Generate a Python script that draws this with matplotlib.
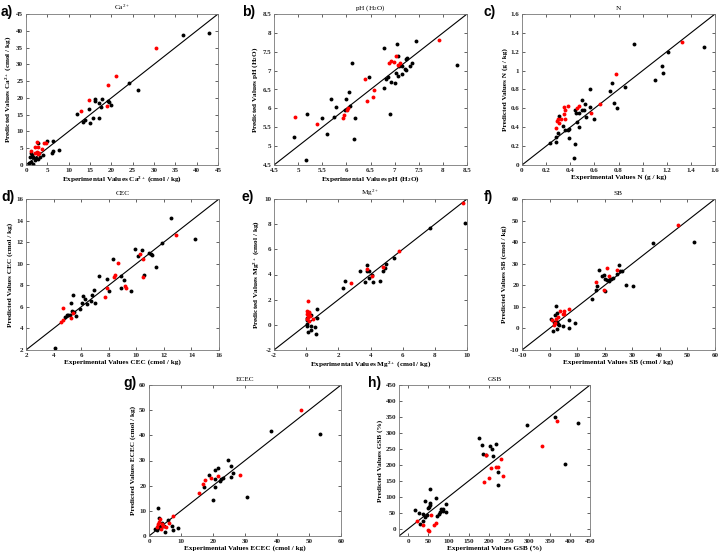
import matplotlib
matplotlib.use('Agg')
import matplotlib.pyplot as plt
import matplotlib.ticker as mticker
import numpy as np

plt.rcParams['font.family'] = ['Liberation Serif', 'DejaVu Serif']
plt.rcParams['mathtext.default'] = 'regular'

# ---- a) Ca2+
ca_x_k = [36.7, 42.9, 26.3, 24.1, 12.0, 14.8, 16.2, 16.2, 17.8, 17.0, 19.3, 19.4, 20.0, 17.6, 13.3, 13.8,
          15.8, 17.1, 15.1, 4.9, 6.4, 2.7, 7.7, 6.2, 6.4, 4.1, 0.9, 1.3, 1.7, 2.3, 2.7, 1.2, 1.6, 2.0, 0.8, 1.2, 3.3]
ca_y_k = [38.6, 39.3, 22.3, 24.3, 15.3, 16.8, 19.8, 19.0, 19.6, 18.6, 19.1, 18.7, 18.0, 17.3, 12.8, 13.5,
          14.1, 14.1, 12.6, 7.2, 7.3, 6.7, 4.6, 3.7, 4.2, 3.1, 2.4, 3.1, 2.4, 2.2, 1.8, 1.0, 0.4, 1.4, 0.6, 3.6, 2.4]
ca_x_r = [30.4, 21.1, 19.2, 14.8, 12.9, 19.1, 2.5, 4.3, 2.0, 2.7, 3.8, 1.2, 2.5, 3.0, 2.7, 2.0, 4.8]
ca_y_r = [34.8, 26.4, 23.9, 19.3, 16.1, 17.5, 7.0, 6.6, 5.4, 5.4, 4.8, 4.1, 4.0, 3.7, 3.4, 3.6, 6.6]

# ---- b) pH
ph_x_k = [4.92, 5.16, 5.18, 5.50, 5.59, 5.68, 5.75, 5.79, 5.98, 6.00, 6.05, 6.08, 6.12, 6.18, 6.16, 6.47,
          6.77, 6.78, 6.82, 6.86, 6.91, 6.92, 7.00, 7.02, 7.05, 7.07, 7.08, 7.10, 7.15, 7.15, 7.21, 7.23,
          7.25, 7.24, 7.32, 7.37, 7.45, 8.29]
ph_y_k = [5.23, 4.64, 5.85, 5.74, 5.33, 6.26, 5.78, 6.04, 5.96, 6.25, 6.44, 6.07, 7.19, 5.74, 5.20, 6.84,
          7.61, 6.55, 6.79, 6.84, 5.86, 6.71, 6.66, 6.94, 7.71, 7.38, 6.87, 7.11, 6.92, 7.11, 7.03, 7.32,
          7.34, 7.02, 7.11, 7.19, 7.79, 7.15]
ph_x_r = [4.94, 5.40, 5.93, 5.95, 6.01, 6.03, 6.38, 6.43, 6.55, 6.58, 6.89, 6.92, 6.99, 7.03, 7.06, 7.12, 7.93]
ph_y_r = [5.77, 5.58, 5.75, 5.83, 5.97, 6.00, 6.77, 6.20, 6.29, 6.48, 7.21, 7.25, 7.24, 7.38, 7.16, 7.21, 7.81]

# ---- c) N
n_x_k = [0.23, 0.28, 0.28, 0.30, 0.31, 0.34, 0.36, 0.38, 0.39, 0.39, 0.43, 0.44, 0.44, 0.45, 0.46, 0.47,
         0.47, 0.50, 0.50, 0.51, 0.52, 0.53, 0.56, 0.56, 0.60, 0.73, 0.75, 0.76, 0.79, 0.85, 0.93, 1.10,
         1.16, 1.17, 1.21, 1.51]
n_y_k = [0.23, 0.30, 0.24, 0.34, 0.52, 0.41, 0.37, 0.37, 0.29, 0.38, 0.07, 0.22, 0.58, 0.55, 0.46, 0.55,
         0.40, 0.69, 0.58, 0.58, 0.65, 0.51, 0.80, 0.61, 0.49, 0.78, 0.87, 0.66, 0.60, 0.83, 1.28, 0.90,
         1.05, 0.97, 1.20, 1.25]
n_x_r = [0.28, 0.29, 0.30, 0.32, 0.31, 0.35, 0.36, 0.35, 0.36, 0.38, 0.46, 0.47, 0.57, 0.65, 0.78, 1.33]
n_y_r = [0.39, 0.47, 0.49, 0.49, 0.44, 0.61, 0.58, 0.54, 0.49, 0.62, 0.60, 0.62, 0.55, 0.65, 0.96, 1.30]

# ---- d) CEC
cec_x_k = [4.13, 4.83, 4.95, 5.07, 5.20, 5.29, 5.37, 5.44, 5.51, 5.63, 5.92, 6.07, 6.16, 6.26, 6.46, 6.70,
           6.79, 6.94, 7.04, 7.28, 7.86, 8.05, 8.30, 8.88, 8.88, 9.12, 9.60, 9.89, 10.09, 10.43, 10.58,
           10.91, 11.05, 11.15, 11.44, 11.88, 12.51, 14.25]
cec_y_k = [2.15, 5.06, 5.28, 5.28, 5.25, 6.33, 5.65, 7.14, 5.50, 5.16, 5.78, 6.33, 7.05, 6.74, 6.30, 6.58,
           7.10, 7.54, 6.39, 8.84, 8.60, 7.45, 10.45, 7.79, 8.84, 8.47, 7.48, 11.32, 10.73, 11.26, 8.94,
           10.95, 10.90, 10.79, 9.65, 11.88, 14.20, 12.31]
cec_x_r = [4.57, 4.71, 4.71, 5.24, 5.39, 7.74, 7.86, 8.39, 8.49, 8.68, 9.17, 9.22, 10.28, 10.47, 10.52, 12.85]
cec_y_r = [4.60, 5.90, 4.82, 5.00, 5.40, 6.95, 7.79, 8.78, 8.93, 10.08, 7.91, 7.73, 10.89, 10.45, 8.81, 12.62]

# ---- e) Mg2+
mg_x_k = [0.03, 0.03, 0.07, 0.03, 0.12, 0.32, 0.32, 0.57, 0.63, 0.70, 0.70, 0.28, 2.32, 2.40, 3.35, 3.68,
          3.79, 3.79, 3.89, 3.93, 4.10, 4.18, 4.56, 4.76, 4.93, 4.97, 5.47, 7.67, 9.90]
mg_y_k = [0.36, 0.10, -0.09, 0.55, -0.57, -0.12, -0.41, -0.20, -0.70, 1.24, 0.52, 0.79, 2.93, 3.52, 4.31,
          3.38, 4.79, 4.26, 3.70, 4.31, 3.97, 3.44, 3.46, 4.26, 4.53, 4.84, 5.35, 7.71, 8.13]
mg_x_r = [0.12, 0.07, 0.16, 0.03, 0.20, 0.24, 0.10, 0.07, 0.16, 0.45, 2.81, 3.81, 4.10, 4.76, 5.76, 9.78]
mg_y_r = [1.87, 1.08, 1.02, 0.89, 0.97, 0.71, 0.63, 0.44, 0.28, 0.44, 3.30, 4.47, 3.89, 4.63, 5.90, 9.70]

# ---- f) SB
sb_x_k = [0.4, 1.1, 1.6, 2.1, 2.3, 2.8, 2.8, 3.0, 2.8, 3.3, 4.7, 6.9, 7.1, 9.1, 15.3, 17.0, 17.3, 18.0,
          19.0, 19.7, 20.2, 20.9, 21.4, 21.8, 22.3, 23.0, 20.0, 24.5, 25.0, 25.5, 26.2, 27.9, 30.3, 37.5, 52.5]
sb_y_k = [4.6, -1.0, 3.0, 6.3, 10.6, 7.2, 2.9, 2.2, -0.4, 1.8, 1.0, 3.8, 0.4, 2.7, 13.8, 17.6, 19.9, 27.2,
          24.2, 25.0, 23.1, 22.4, 22.0, 22.7, 22.8, 23.4, 17.2, 25.4, 29.3, 26.5, 26.7, 20.3, 19.6, 39.7, 40.0]
sb_x_r = [0.9, 1.6, 2.1, 2.5, 3.0, 3.8, 4.7, 5.4, 5.4, 7.1, 16.8, 19.9, 20.9, 21.6, 24.3, 46.7]
sb_y_r = [3.8, 1.8, 2.7, 4.5, 5.2, 8.0, 6.7, 8.3, 6.9, 9.2, 21.3, 17.6, 27.8, 24.1, 27.2, 48.0]

# ---- g) ECEC
ecec_x_k = [1.9, 2.5, 2.7, 2.9, 3.1, 3.3, 3.6, 3.8, 4.0, 4.6, 5.0, 5.9, 7.3, 7.5, 9.2, 17.3, 18.6, 20.1,
            20.5, 20.5, 20.7, 21.5, 22.2, 22.4, 23.0, 24.7, 25.5, 25.7, 26.1, 30.7, 38.2, 53.3]
ecec_y_k = [2.8, 2.3, 3.8, 11.1, 7.3, 3.2, 4.1, 3.6, 5.2, 3.8, 1.5, 6.5, 4.1, 2.5, 3.0, 19.5, 24.1, 14.2,
            22.8, 26.4, 19.5, 27.0, 21.9, 22.8, 22.9, 30.1, 23.4, 27.9, 25.0, 15.5, 41.7, 40.5]
ecec_x_r = [2.5, 2.9, 3.1, 3.3, 3.6, 4.0, 4.4, 5.2, 6.1, 7.5, 15.7, 16.9, 17.6, 19.4, 21.5, 28.4, 47.6]
ecec_y_r = [3.6, 4.9, 5.6, 6.8, 2.8, 4.6, 3.8, 3.6, 5.2, 7.8, 17.1, 20.8, 22.1, 23.2, 23.7, 24.1, 50.2]

# ---- h) GSB
gsb_x_k = [17, 27, 29, 37, 37, 42, 42, 47, 49, 52, 54, 55, 55, 68, 70, 75, 78, 81, 83, 85, 86, 93, 93,
           174, 182, 185, 192, 202, 207, 210, 216, 223, 223, 295, 364, 388, 420]
gsb_y_k = [57, 48, 15, 25, 46, 86, 36, 44, 64, 67, 124, 73, 81, 97, 39, 46, 52, 61, 57, 61, 54, 77, 52,
           283, 262, 234, 230, 259, 250, 228, 264, 179, 137, 324, 350, 202, 330]
gsb_x_r = [21, 37, 50, 51, 57, 63, 68, 187, 192, 200, 205, 218, 221, 230, 235, 332, 368]
gsb_y_r = [23, 11, -3, -8, 43, 12, 17, 146, 231, 158, 191, 192, 192, 218, 165, 260, 336]

panels = [
    # letter, title, label unit text, xk, yk, xr, yr, lims, ticks, rect(px: left, top, right, bottom), letter pos
    ('a)', 'Ca$^{2+}$', 'Ca$^{2+}$ (cmol / kg)', ca_x_k, ca_y_k, ca_x_r, ca_y_r,
     (0, 45), np.arange(0, 46, 5), (26, 14, 218, 165), (1, 12)),
    ('b)', 'pH (H$_2$O)', 'pH (H$_2$O)', ph_x_k, ph_y_k, ph_x_r, ph_y_r,
     (4.5, 8.5), np.arange(4.5, 8.6, 0.5), (274, 14, 467, 165), (242, 12)),
    ('c)', 'N', 'N (g / kg)', n_x_k, n_y_k, n_x_r, n_y_r,
     (0, 1.6), np.arange(0, 1.61, 0.2), (522, 14, 715, 165), (483, 12)),
    ('d)', 'CEC', 'CEC (cmol / kg)', cec_x_k, cec_y_k, cec_x_r, cec_y_r,
     (2, 16), np.arange(2, 17, 2), (26, 199, 219, 350), (1, 197)),
    ('e)', 'Mg$^{2+}$', 'Mg$^{2+}$ (cmol / kg)', mg_x_k, mg_y_k, mg_x_r, mg_y_r,
     (-2, 10), np.arange(-2, 11, 2), (274, 199, 467, 350), (242, 197)),
    ('f)', 'SB', 'SB (cmol / kg)', sb_x_k, sb_y_k, sb_x_r, sb_y_r,
     (-10, 60), np.arange(-10, 61, 10), (522, 199, 715, 350), (484, 197)),
    ('g)', 'ECEC', 'ECEC (cmol / kg)', ecec_x_k, ecec_y_k, ecec_x_r, ecec_y_r,
     (0, 60), np.arange(0, 61, 10), (149, 385, 341, 536), (123, 383)),
    ('h)', 'GSB', 'GSB (%)', gsb_x_k, gsb_y_k, gsb_x_r, gsb_y_r,
     (-23, 450), np.arange(0, 451, 50), (399, 385, 590, 536), (368, 383)),
]

W, H = 719, 553
fig = plt.figure(figsize=(W / 100, H / 100), dpi=100)

for letter, title, unit, xk, yk, xr, yr, lims, ticks, rect, lpos in panels:
    l, t, r, b = rect
    ax = fig.add_axes([l / W, 1 - b / H, (r - l) / W, (b - t) / H])
    ax.plot(lims, lims, color='k', lw=0.8, zorder=1)
    ax.plot(xk, yk, 'o', color='k', ms=2.8, mew=0, zorder=2)
    ax.plot(xr, yr, 'o', color='red', ms=2.8, mew=0, zorder=3)
    ax.set_xlim(lims)
    ax.set_ylim(lims)
    ax.set_xticks(ticks)
    ax.set_yticks(ticks)
    ax.xaxis.set_major_formatter(mticker.FormatStrFormatter('%g'))
    ax.yaxis.set_major_formatter(mticker.FormatStrFormatter('%g'))
    ax.tick_params(direction='in', length=2, width=0.5, labelsize=5, pad=2,
                   top=True, right=True, colors='#222')
    for lab in ax.get_xticklabels() + ax.get_yticklabels():
        lab.set_fontweight('bold')
    for s in ax.spines.values():
        s.set_linewidth(0.6)
        s.set_color('#777')
    ax.set_xlabel('Experimental Values ' + unit, fontsize=5.2, fontweight='bold', labelpad=1)
    ax.set_ylabel('Predicted Values ' + unit, fontsize=5.2, fontweight='bold', labelpad=2)
    ax.set_title(title, fontsize=5.2, pad=3)
    fig.text(lpos[0] / W, 1 - lpos[1] / H, letter, fontsize=10, fontweight='bold',
             family='Liberation Sans', ha='left', va='center')

fig.savefig('out.png', dpi=100)
